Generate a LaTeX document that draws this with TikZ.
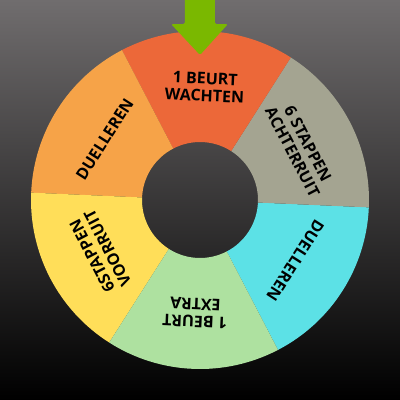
\documentclass[tikz,border=0pt]{standalone}
\usepackage{fontspec}
\setmainfont{Open Sans}
\definecolor{bgtop}{RGB}{112,109,110}
\definecolor{wred}{RGB}{236,104,57}
\definecolor{wgray}{RGB}{164,164,145}
\definecolor{wcyan}{RGB}{92,225,230}
\definecolor{wgreen}{RGB}{174,225,160}
\definecolor{wyellow}{RGB}{255,222,89}
\definecolor{worange}{RGB}{246,163,72}
\definecolor{warrow}{RGB}{122,184,0}
\begin{document}
\begin{tikzpicture}[x=1pt,y=1pt,
  lbl/.style={font=\bfseries\fontsize{16}{17.5}\selectfont, align=center, inner sep=0pt}]
\shade[shading angle=35, top color=bgtop, bottom color=black] (-200,-200) rectangle (200,200);
\useasboundingbox (-200,-200) rectangle (200,200);
\foreach \a/\col/\txt [count=\i] in {-62.5/wcyan/DUELLEREN, -2.5/wgray/{6 STAPPEN\\ACHTERRUIT}, 57.5/wred/{1 BEURT\\WACHTEN}, 117.5/worange/DUELLEREN, 177.5/wyellow/{6STAPPEN\\VOORRUIT}, 237.5/wgreen/{1 BEURT\\EXTRA}}{
  \pgfmathsetmacro{\b}{\a+60}
  \pgfmathsetmacro{\m}{\a+30}
  \pgfmathsetmacro{\r}{\a-60}
  \fill[\col] (\a:169) arc[start angle=\a, end angle=\b, radius=169] -- (\b:58) arc[start angle=\b, end angle=\a, radius=58] -- cycle;
  \node[lbl, rotate=\r] (tid\i) at (\m:113) {\txt};
}
\fill[warrow, rounded corners=1.5pt] (-15,205) -- (-15,176) -- (-29,176) -- (0,145) -- (28,176) -- (15,176) -- (15,205) -- cycle;
\end{tikzpicture}
\end{document}
